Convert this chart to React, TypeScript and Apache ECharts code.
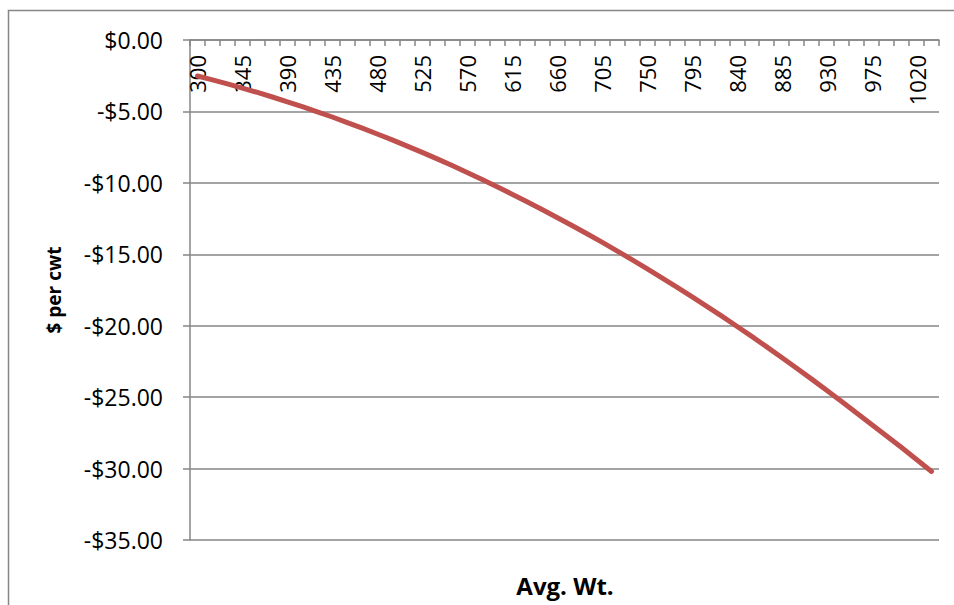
import React, { useEffect, useRef } from "react";
import * as echarts from "echarts";

// Average weight classes, every 15 lb from 300 to 1035
const weights: string[] = [
  "300", "315", "330", "345", "360", "375", "390", "405", "420", "435",
  "450", "465", "480", "495", "510", "525", "540", "555", "570", "585",
  "600", "615", "630", "645", "660", "675", "690", "705", "720", "735",
  "750", "765", "780", "795", "810", "825", "840", "855", "870", "885",
  "900", "915", "930", "945", "960", "975", "990", "1005", "1020", "1035",
];

// Price change in $ per cwt for each weight class
const perCwt: number[] = [
  -2.52, -2.79, -3.07, -3.37, -3.67, -3.99, -4.33, -4.67, -5.03, -5.39,
  -5.78, -6.17, -6.58, -6.99, -7.43, -7.87, -8.32, -8.79, -9.27, -9.77,
  -10.27, -10.79, -11.32, -11.86, -12.42, -12.98, -13.56, -14.15, -14.76, -15.37,
  -16.0, -16.65, -17.3, -17.97, -18.64, -19.33, -20.04, -20.75, -21.48, -22.22,
  -22.98, -23.74, -24.52, -25.31, -26.11, -26.92, -27.72, -28.53, -29.36, -30.2,
];

const yMin = -35;
const yMax = 0;
const yStep = 5;

const FONT = "'Open Sans', 'Noto Sans', sans-serif";
const GRAY = "#868686";

function money(v: number): string {
  const s = "$" + Math.abs(v).toFixed(2);
  return v < 0 ? "-" + s : s;
}

export default function App() {
  const ref = useRef<HTMLDivElement>(null);

  useEffect(() => {
    if (!ref.current) return;
    const chart = echarts.init(ref.current, undefined, { renderer: "svg" });
    chart.setOption({
      animation: false,
      backgroundColor: "#ffffff",
      grid: { left: 190, right: 15, top: 40, bottom: 65 },
      graphic: [
        {
          type: "rect",
          shape: { x: 8.5, y: 10.5, width: 1200, height: 1200 },
          style: { fill: "none", stroke: GRAY, lineWidth: 1.5 },
          silent: true,
        },
        {
          type: "text",
          x: 565,
          y: 585,
          style: {
            text: "Avg. Wt.",
            font: `bold 24px ${FONT}`,
            fill: "#000",
            align: "center",
            verticalAlign: "middle",
          },
        },
      ],
      xAxis: {
        type: "category",
        data: weights,
        position: "top",
        boundaryGap: true,
        axisLine: { show: true, lineStyle: { color: GRAY, width: 1.5 } },
        axisTick: {
          show: true,
          inside: true,
          interval: 0,
          length: 6,
          lineStyle: { color: GRAY, width: 1.5 },
        },
        axisLabel: {
          inside: true,
          rotate: 90,
          interval: 2,
          margin: 15,
          color: "#000",
          fontFamily: FONT,
          fontSize: 22,
        },
        splitLine: { show: false },
      },
      yAxis: {
        type: "value",
        min: yMin,
        max: yMax,
        interval: yStep,
        name: "$ per cwt",
        nameLocation: "middle",
        nameGap: 127,
        nameTextStyle: {
          color: "#000",
          fontFamily: FONT,
          fontSize: 19,
          fontWeight: "bold",
        },
        axisLine: { show: true, lineStyle: { color: GRAY, width: 1.5 } },
        axisTick: {
          show: true,
          length: 7,
          lineStyle: { color: GRAY, width: 1.5 },
        },
        axisLabel: {
          margin: 27,
          color: "#000",
          fontFamily: FONT,
          fontSize: 23,
          formatter: (v: number) => money(v),
        },
        splitLine: { show: true, lineStyle: { color: GRAY, width: 1.5 } },
      },
      series: [
        {
          type: "line",
          data: perCwt,
          showSymbol: false,
          symbol: "none",
          lineStyle: { color: "#C0504D", width: 5, cap: "round", join: "round" },
          itemStyle: { color: "#C0504D" },
        },
      ],
    });
    return () => chart.dispose();
  }, []);

  return (
    <div
      ref={ref}
      style={{ position: "absolute", left: 0, top: 0, width: 954, height: 605 }}
    />
  );
}
